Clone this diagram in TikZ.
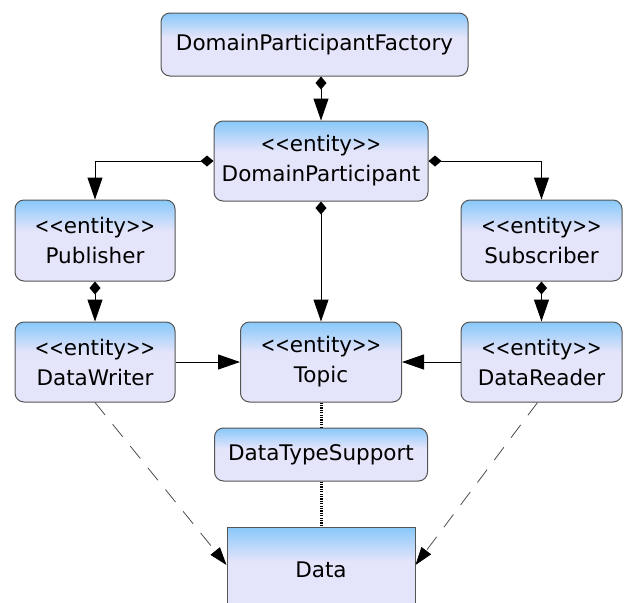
\documentclass[tikz,border=0pt]{standalone}
\usepackage{fontspec}
\usepackage{graphicx}
\setmainfont{DejaVu Sans}
\usetikzlibrary{arrows.meta}
\definecolor{topblue}{RGB}{136,200,250}
\definecolor{lav}{RGB}{228,228,250}
\definecolor{edge}{RGB}{85,85,85}
\pgfdeclareverticalshading{boxshade}{100bp}{color(0bp)=(lav); color(56bp)=(lav); color(75bp)=(topblue); color(100bp)=(topblue)}
\newcommand{\lt}{\scalebox{0.8}[1]{<}}
\newcommand{\gt}{\scalebox{0.8}[1]{>}}
\newcommand{\ent}{\lt\lt entity\gt\gt}
\tikzset{
  box/.style={draw=edge, line width=1pt, shading=boxshade, rounded corners=9pt, inner sep=0pt, align=center,
    font=\fontsize{21.5}{30}\selectfont, text=black},
  sqbox/.style={box, rounded corners=0pt},
  comp/.style={line width=1pt, {Diamond[length=13pt,width=11pt]}-{Triangle[length=22pt,width=15pt]}},
  assoc/.style={line width=1pt, -{Triangle[length=22pt,width=15pt]}},
  dep/.style={line width=0.8pt, draw=black!70, dash pattern=on 16pt off 12pt, -{Triangle[length=18pt,width=12pt,color=black,fill=black]}},
  tie/.style={line width=3pt, dash pattern=on 1.2pt off 1.2pt},
}
\begin{document}
\begin{tikzpicture}[x=1pt,y=-1pt]
\useasboundingbox (0,0) rectangle (625,603);
\clip (0,0) rectangle (625,603);
\node[box, minimum width=307pt, minimum height=63pt] (fac) at (314.5,44.5) {DomainParticipantFactory};
\node[box, minimum width=214pt, minimum height=80pt] (dp) at (321,161) {\ent\\DomainParticipant};
\node[box, minimum width=160pt, minimum height=81pt] (pub) at (95,240.5) {\ent\\Publisher};
\node[box, minimum width=161pt, minimum height=81pt] (sub) at (541.5,240.5) {\ent\\Subscriber};
\node[box, minimum width=160pt, minimum height=80pt] (dw) at (95,362) {\ent\\DataWriter};
\node[box, minimum width=161pt, minimum height=80pt] (topic) at (321,362) {\ent\\Topic};
\node[box, minimum width=161pt, minimum height=80pt] (dr) at (541.5,362) {\ent\\DataReader};
\node[box, minimum width=213pt, minimum height=53pt] (dts) at (321,454.5) {DataTypeSupport};
\node[sqbox, minimum width=188pt, minimum height=90pt] (data) at (321,572) {\raisebox{4pt}{Data}};
\coordinate (dataL) at ([yshift=7pt]data.west);
\coordinate (dataR) at ([yshift=7pt]data.east);

\draw[comp] (fac.south -| dp.north) -- (dp.north);
\draw[comp] (dp.west) -| (pub.north);
\draw[comp] (dp.east) -| (sub.north);
\draw[comp] (dp.south) -- (topic.north);
\draw[comp] (pub.south) -- (dw.north);
\draw[comp] (sub.south) -- (dr.north);
\draw[assoc] (dw.east) -- (topic.west);
\draw[assoc] (dr.west) -- (topic.east);
\draw[tie] (topic.south) -- (dts.north);
\draw[tie] (dts.south) -- (data.north);
\draw[dep] (dw.south) -- (dataL);
\draw[dep] ([xshift=-4pt]dr.south) -- (dataR);
\end{tikzpicture}
\end{document}
